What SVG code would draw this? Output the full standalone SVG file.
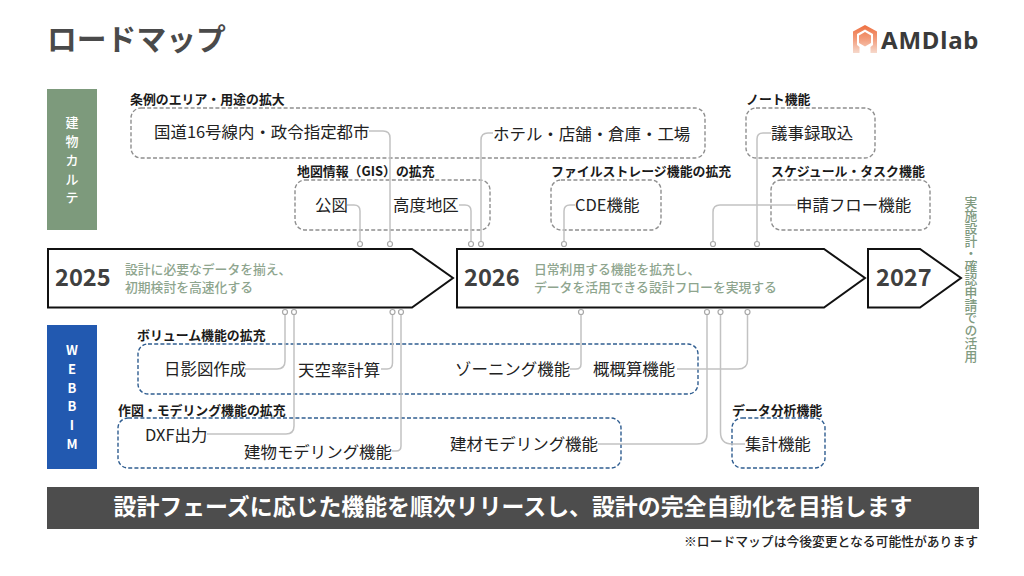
<svg xmlns="http://www.w3.org/2000/svg" width="1024" height="576" viewBox="0 0 1024 576">
<style>
text{font-family:"Noto Sans CJK JP","Noto Sans",sans-serif;}
.title{font-size:29.800px;font-weight:700;fill:#4a4a4a}
.sec{font-size:12.900px;font-weight:700;fill:#1a1a1a}
.item{font-size:16.450px;fill:#222;font-weight:400}
.gbox{fill:none;stroke:#8f8f8f;stroke-width:1.4;stroke-dasharray:4 2.2}
.bbox{fill:none;stroke:#2f5d90;stroke-width:1.4;stroke-dasharray:4 2.2}
.arrow{fill:#fff;stroke:#111;stroke-width:2}
.year{font-size:23.600px;font-weight:700;fill:#404040}
.sub{font-size:12.800px;font-weight:500;fill:#8ea58e}
.side{font-size:13px;font-weight:500;fill:#fff;text-anchor:middle}
.con{fill:none;stroke:#c2c2c2;stroke-width:1.5}
.dot{fill:#fff;stroke:#a8a8a8;stroke-width:1.2}
</style>
<defs>
<linearGradient id="logoGrad" x1="0" y1="0" x2="0" y2="1">
<stop offset="0" stop-color="#ee6f3f"/><stop offset="0.55" stop-color="#f3a283"/><stop offset="1" stop-color="#f6d9cc"/>
</linearGradient>
</defs>
<rect width="1024" height="576" fill="#fff"/>
<text id="title" class="title" x="47" y="50">ロードマップ</text>
<g id="logo">
<path d="M865 25 L877 31.500 L877 53 L870.500 53 L870.500 47 L873 45 L873 34 L865 29.500 L857 34 L857 45 L859.500 47 L859.500 53 L853 53 L853 31.500 Z M865 32 L871 35.500 L871 43 L865 46.500 L859 43 L859 35.500 Z" fill="url(#logoGrad)" fill-rule="evenodd"/>
<text x="881" y="49" font-size="24" font-weight="700" fill="#3a3a3a" letter-spacing="0.8" style="font-family:'Noto Sans',sans-serif">AMDlab</text>
</g>
<g id="side-karte">
<rect x="47" y="89" width="50" height="141" fill="#7d9a7c"/>
<text class="side"><tspan x="72" y="127">建</tspan><tspan x="72" y="146">物</tspan><tspan x="72" y="165">カ</tspan><tspan x="72" y="184">ル</tspan><tspan x="72" y="202">テ</tspan></text>
</g>
<g id="side-webbim">
<rect x="47" y="325" width="50" height="144" fill="#2259b0"/>
<text class="side" style="font-weight:700"><tspan x="72" y="355">W</tspan><tspan x="72" y="374">E</tspan><tspan x="72" y="393">B</tspan><tspan x="72" y="411">B</tspan><tspan x="72" y="430">I</tspan><tspan x="72" y="449">M</tspan></text>
</g>
<g id="sec-jourei"><rect class="gbox" x="131" y="108" width="574" height="50" rx="10"/><text class="sec" x="130" y="104">条例のエリア・用途の拡大</text></g>
<g id="sec-gis"><rect class="gbox" x="295" y="180" width="195" height="50" rx="10"/><text class="sec" x="297" y="176">地図情報（GIS）の拡充</text></g>
<g id="sec-file"><rect class="gbox" x="551" y="180" width="110" height="50" rx="10"/><text class="sec" x="551" y="176">ファイルストレージ機能の拡充</text></g>
<g id="sec-note"><rect class="gbox" x="746" y="108" width="129" height="50" rx="10"/><text class="sec" x="746" y="104">ノート機能</text></g>
<g id="sec-schedule"><rect class="gbox" x="771" y="180" width="159" height="50" rx="10"/><text class="sec" x="771" y="176">スケジュール・タスク機能</text></g>
<g id="sec-volume"><rect class="bbox" x="138" y="344" width="560" height="50" rx="10"/><text class="sec" x="137" y="340">ボリューム機能の拡充</text></g>
<g id="sec-model"><rect class="bbox" x="118" y="418" width="503" height="50" rx="10"/><text class="sec" x="118" y="415">作図・モデリング機能の拡充</text></g>
<g id="sec-data"><rect class="bbox" x="732" y="418" width="93" height="50" rx="10"/><text class="sec" x="732" y="415">データ分析機能</text></g>
<g id="connectors">
<path class="con" d="M369 131H383Q390 131 390 138V241"/>
<path class="con" d="M493 133H488Q481 133 481 140V241"/>
<path class="con" d="M347 205H354Q360 205 360 211V241"/>
<path class="con" d="M459 205H465Q471 205 471 211V241"/>
<path class="con" d="M575 205H570Q564 205 564 211V241"/>
<path class="con" d="M796 205H720Q713 205 713 212V241"/>
<path class="con" d="M771 133H763Q757 133 757 139V241"/>
<path class="con" d="M245 369H277Q285 369 285 361V315"/>
<path class="con" d="M207 434H286Q294 434 294 426V315"/>
<path class="con" d="M381 369H387Q392.500 369 392.500 363V315"/>
<path class="con" d="M392 451H396Q401 451 401 446V315"/>
<path class="con" d="M570 369H576Q581 369 581 364V315"/>
<path class="con" d="M677 369H738Q747.500 369 747.500 360V315"/>
<path class="con" d="M598 444H697Q707 444 707 434V315"/>
<path class="con" d="M745 444H732Q720.500 444 720.500 432V315"/>
<g>
<circle class="dot" cx="390" cy="244" r="2.500"/><circle class="dot" cx="481" cy="244" r="2.500"/><circle class="dot" cx="360" cy="244" r="2.500"/><circle class="dot" cx="471" cy="244" r="2.500"/><circle class="dot" cx="564" cy="244" r="2.500"/><circle class="dot" cx="713" cy="244" r="2.500"/><circle class="dot" cx="757" cy="244" r="2.500"/>
<circle class="dot" cx="285" cy="312" r="2.500"/><circle class="dot" cx="294" cy="312" r="2.500"/><circle class="dot" cx="392.500" cy="312" r="2.500"/><circle class="dot" cx="401" cy="312" r="2.500"/><circle class="dot" cx="581" cy="312" r="2.500"/><circle class="dot" cx="747.500" cy="312" r="2.500"/><circle class="dot" cx="707" cy="312" r="2.500"/><circle class="dot" cx="720.500" cy="312" r="2.500"/>
</g>
</g>
<g id="item-1"><text class="item" x="154" y="138">国道16号線内・政令指定都市</text></g>
<g id="item-2"><text class="item" x="493" y="140">ホテル・店舗・倉庫・工場</text></g>
<g id="item-3"><text class="item" x="315" y="211">公図</text></g>
<g id="item-4"><text class="item" x="393" y="211">高度地区</text></g>
<g id="item-5"><text class="item" x="575" y="211">CDE機能</text></g>
<g id="item-6"><text class="item" x="771" y="139">議事録取込</text></g>
<g id="item-7"><text class="item" x="796" y="211">申請フロー機能</text></g>
<g id="item-8"><text class="item" x="164" y="375">日影図作成</text></g>
<g id="item-9"><text class="item" x="298" y="376">天空率計算</text></g>
<g id="item-10"><text class="item" x="455" y="375">ゾーニング機能</text></g>
<g id="item-11"><text class="item" x="593" y="375">概概算機能</text></g>
<g id="item-12"><text class="item" x="145" y="441">DXF出力</text></g>
<g id="item-13"><text class="item" x="244" y="458">建物モデリング機能</text></g>
<g id="item-14"><text class="item" x="450" y="450">建材モデリング機能</text></g>
<g id="item-15"><text class="item" x="745" y="450">集計機能</text></g>
<g id="y2025"><path class="arrow" d="M48 249H412L453 278L412 307.500H48Z"/><text class="year" x="55" y="286">2025</text><text class="sub"><tspan x="125" y="274">設計に必要なデータを揃え、</tspan><tspan x="125" y="292">初期検討を高速化する</tspan></text></g>
<g id="y2026"><path class="arrow" d="M457 249H824L865 278L824 307.500H457Z"/><text class="year" x="464" y="286">2026</text><text class="sub"><tspan x="534" y="274">日常利用する機能を拡充し、</tspan><tspan x="534" y="292">データを活用できる設計フローを実現する</tspan></text></g>
<g id="y2027"><path class="arrow" d="M868 249H920L961 278L920 307.500H868Z"/><text class="year" x="876" y="286">2027</text></g>
<text id="goal" x="971" y="196" font-size="12.800" font-weight="500" fill="#7f9a7f" writing-mode="vertical-rl" dominant-baseline="central">実施設計・確認申請での活用</text>
<g id="banner"><rect x="47" y="487" width="932" height="42" fill="#4d4d4d"/><text x="513" y="515" text-anchor="middle" font-size="22.900" font-weight="700" fill="#fff">設計フェーズに応じた機能を順次リリースし、設計の完全自動化を目指します</text></g>
<text id="note" x="978" y="546" text-anchor="end" font-size="12.800" font-weight="500" fill="#222">※ロードマップは今後変更となる可能性があります</text>
</svg>
